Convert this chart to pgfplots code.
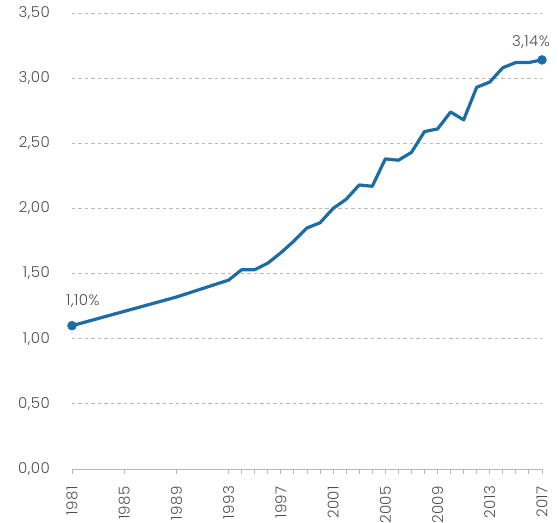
\documentclass[border=0pt]{standalone}
\usepackage{pgfplots}
\pgfplotsset{compat=1.18}
\usepackage{fontspec}
\setmainfont{Poppins}[UprightFont=* Light, LetterSpace=3]
\definecolor{lineblue}{RGB}{29,108,164}
\definecolor{txtgrey}{RGB}{80,80,80}
\definecolor{gridgrey}{RGB}{185,185,185}
\begin{document}
\begin{tikzpicture}[x=1pt,y=1pt]
\useasboundingbox (-72,-54) rectangle (486,469);
\begin{axis}[
  at={(0,0)}, anchor=south west,
  scale only axis, width=470pt, height=456pt,
  xmin=1981, xmax=2017, ymin=0, ymax=3.5,
  axis x line*=bottom, axis y line*=left,
  y axis line style={draw=none},
  x axis line style={draw=gridgrey, line width=0.9pt},
  xtick={1981,1985,...,2017},
  minor xtick={1994,1995,...,2016},
  tick align=outside,
  major tick length=5pt, minor tick length=5pt,
  xtick style={draw=gridgrey, line width=0.9pt},
  every minor tick/.append style={draw=gridgrey, line width=0.9pt},
  ytick={0,0.5,...,3.5},
  ytick style={draw=none},
  ymajorgrids, grid style={gridgrey, line width=0.8pt, dash pattern=on 3.5pt off 3pt},
  /pgf/number format/assume math mode=true,
  xticklabel={\pgfmathprintnumber[/pgf/number format/.cd,1000 sep={},fixed,precision=0]{\tick}},
  yticklabel={\pgfmathprintnumber[/pgf/number format/.cd,fixed,fixed zerofill,precision=2,use comma]{\tick}},
  xticklabel style={rotate=90, anchor=east, font=\fontsize{15}{18}\selectfont, text=txtgrey, inner sep=0pt, xshift=-12pt},
  yticklabel style={font=\fontsize{15}{18}\selectfont, text=txtgrey, inner sep=0pt, xshift=-17pt},
  clip=false,
]
\addplot[lineblue, line width=3.2pt, line join=round] coordinates {
(1981,1.10) (1985,1.21) (1989,1.32) (1993,1.45) (1994,1.53) (1995,1.53)
(1996,1.58) (1997,1.66) (1998,1.75) (1999,1.85) (2000,1.89) (2001,2.00)
(2002,2.07) (2003,2.18) (2004,2.17) (2005,2.38) (2006,2.37) (2007,2.43)
(2008,2.59) (2009,2.61) (2010,2.74) (2011,2.68) (2012,2.93) (2013,2.97)
(2014,3.08) (2015,3.12) (2016,3.12) (2017,3.14)
};
\addplot[only marks, mark=*, mark size=4.5pt, lineblue,
  nodes near coords, point meta=explicit symbolic,
  every node near coord/.style={font=\fontsize{15}{18}\selectfont, text=txtgrey, anchor=south west, inner sep=0pt, xshift=-6pt, yshift=18pt}]
  coordinates {(1981,1.10) [1,10\%]};
\addplot[only marks, mark=*, mark size=4.5pt, lineblue,
  nodes near coords, point meta=explicit symbolic,
  every node near coord/.style={font=\fontsize{15}{18}\selectfont, text=txtgrey, anchor=south east, inner sep=0pt, xshift=8pt, yshift=11pt}]
  coordinates {(2017,3.14) [3,14\%]};
\end{axis}
\end{tikzpicture}
\end{document}
